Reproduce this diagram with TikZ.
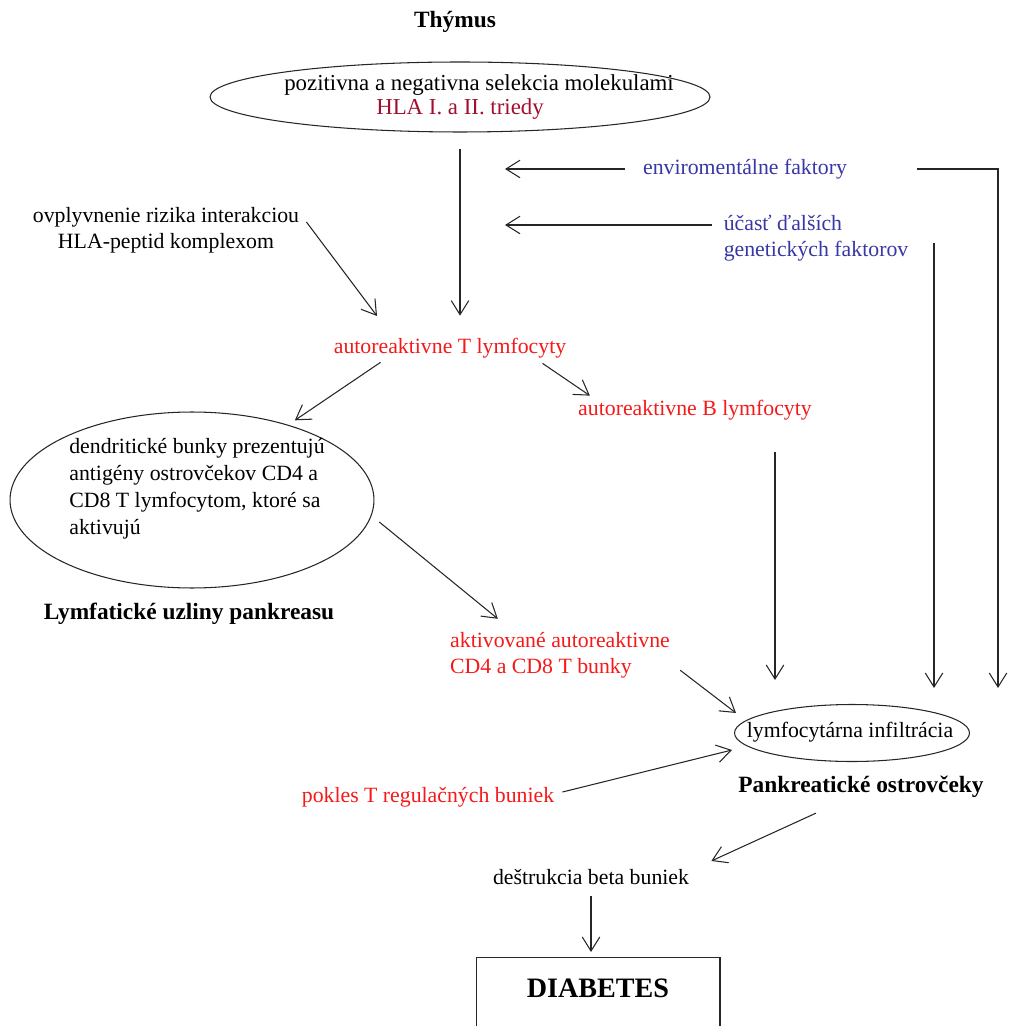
\documentclass[tikz,border=0pt]{standalone}
\usepackage{fontspec}
\setmainfont{Liberation Serif}
\usepackage{tikz}
\usepackage{xcolor}
\usetikzlibrary{positioning,arrows.meta,shapes.geometric}
\definecolor{autored}{RGB}{245,25,25}
\definecolor{hlared}{RGB}{160,15,45}
\definecolor{envblue}{RGB}{55,55,165}

\begin{document}
\begin{tikzpicture}[
  x=0.02cm, y=-0.02cm,
  >={Straight Barb[length=8pt,width=10pt]},
  txt/.style={inner sep=0pt, align=center, font=\fontsize{12.4}{14.7}\selectfont},
  ttl/.style={inner sep=0pt, align=center, font=\fontsize{13.3}{15}\selectfont\bfseries},
  oval/.style={ellipse, draw=black!85, line width=0.6pt, inner sep=0pt},
  arr/.style={->, line width=0.6pt, draw=black!85}
]
\useasboundingbox (0,0) rectangle (1008,1026);
\clip (0,0) rectangle (1008,1026);

% thymus
\node[ttl] (thyTitle) at (455,22) {Thýmus};
\node[oval, minimum width=10cm, minimum height=1.4cm] (thymus) at (460,97) {};
\node[txt, font=\fontsize{13}{13.6}\selectfont] (selekcia) at (460,97) {\hspace*{0.76cm}pozitivna a negativna selekcia molekulami\\\textcolor{hlared}{HLA I. a II. triedy}};

% factors
\node[txt, text=envblue] (env) at (745,169) {enviromentálne faktory};
\node[txt, text=envblue, align=left] (gen) at (816,238) {účasť ďalších\\genetických faktorov};
\node[txt] (risk) at (166,230) {ovplyvnenie rizika interakciou\\HLA-peptid komplexom};
\coordinate (envEnd) at (505,169);
\coordinate (genEnd) at (505,225);
\coordinate (envDown) at (998,688);
\coordinate (genDown) at (934,688);
\coordinate (bDown) at (775,680);
\coordinate (riskEnd) at (377,316);

% lymphocytes
\node[txt, text=autored] (autoT) at (450,348) {autoreaktivne T lymfocyty};
\node[txt, text=autored] (autoB) at (695,410) {autoreaktivne B lymfocyty};
\node[oval, minimum width=7.28cm, minimum height=3.52cm] (dend) at (192,500) {};
\node[txt, align=left, font=\fontsize{12.4}{15.3}\selectfont] (dendTxt) at (197,489) {dendritické bunky prezentujú\\antigény ostrovčekov CD4 a\\CD8 T lymfocytom, ktoré sa\\aktivujú};
\node[ttl] (lymTitle) at (189,614) {Lymfatické uzliny pankreasu};
\node[txt, text=autored, align=left] (aktiv) at (560,655) {aktivované autoreaktivne\\CD4 a CD8 T bunky};

% pancreas
\node[oval, minimum width=4.7cm, minimum height=1.14cm] (infil) at (852,733) {};
\node[txt] (infilTxt) at (850,732) {lymfocytárna infiltrácia};
\node[ttl] (panTitle) at (861,787) {Pankreatické ostrovčeky};
\node[txt, text=autored] (pokles) at (428,797) {pokles T regulačných buniek};
\node[txt] (destr) at (591,877) {deštrukcia beta buniek};
\node[draw=black!85, line width=0.6pt, anchor=north, minimum width=4.88cm, inner xsep=0pt, inner ysep=10.7pt, text height=12pt, text depth=1.5cm, font=\fontsize{16}{19}\selectfont\bfseries] (diab) at (598,957) {DIABETES};

% arrows
\draw[arr, shorten <=0.32cm, shorten >=0.44cm] (thymus.south) -- (thymus.south |- autoT.north);
\draw[arr, shorten <=0.36cm] (env.west) -- (envEnd);
\draw[arr, shorten <=1.4cm] (env.east) -| (envDown);
\draw[arr, shorten <=0.22cm] (genEnd -| gen.west) -- (genEnd);
\draw[arr, shorten <=0.1cm] (gen.east -| genDown) -- (genDown);
\draw[arr] ([xshift=0.14cm,yshift=0.16cm]risk.east) -- (riskEnd);
\draw[arr, shorten >=0.16cm] ([xshift=0.94cm,yshift=-0.08cm]autoT.south west) -- (dend.38);
\draw[arr] ([xshift=-0.48cm,yshift=-0.1cm]autoT.south east) -- ([xshift=0.24cm,yshift=0.08cm]autoB.north west);
\draw[arr, shorten <=0.64cm] (bDown |- autoB.south) -- (bDown);
\draw[arr, shorten <=0.2cm] (dend.-5) -- ([xshift=0.96cm,yshift=0.26cm]aktiv.north west);
\draw[arr] ([xshift=0.2cm,yshift=0.16cm]aktiv.south east) -- ([xshift=0.04cm,yshift=0.4cm]infil.west);
\draw[arr] ([xshift=0.16cm,yshift=0.1cm]pokles.east) -- ([xshift=-0.04cm,yshift=-0.34cm]infil.west);
\draw[arr] ([xshift=-0.9cm,yshift=-0.3cm]panTitle.south) -- ([xshift=0.44cm,yshift=0.16cm]destr.north east);
\draw[arr, shorten <=0.22cm, shorten >=0.1cm] (destr.south) -- (destr.south |- diab.north);
\end{tikzpicture}
\end{document}
